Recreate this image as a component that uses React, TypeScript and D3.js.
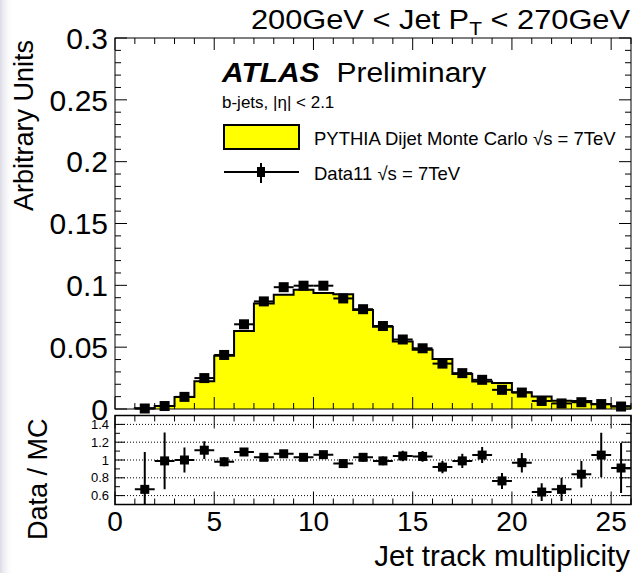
import React from "react";
import * as d3 from "d3";

// Track-multiplicity bins: each bin spans [lo, lo + 1)
const binLows = [1, 2, 3, 4, 5, 6, 7, 8, 9, 10, 11, 12, 13, 14, 15, 16, 17, 18, 19, 20, 21, 22, 23, 24, 25];

// PYTHIA dijet MC, normalised
const mcValues = [
  0.0006, 0.0024, 0.0098, 0.0225, 0.043, 0.063, 0.0853, 0.0924, 0.0964, 0.0937, 0.0927, 0.08, 0.0666,
  0.0546, 0.048, 0.0405, 0.0283, 0.0223, 0.021, 0.0136, 0.0101, 0.0066, 0.0065, 0.0038, 0.0022,
];

// Data11, normalised
const dataValues = [
  0.0004, 0.0024, 0.0098, 0.025, 0.0437, 0.0685, 0.087, 0.0985, 0.0997, 0.0997, 0.0894, 0.0807, 0.0671,
  0.0562, 0.0491, 0.0367, 0.029, 0.0236, 0.0155, 0.0133, 0.0065, 0.0045, 0.0055, 0.004, 0.002,
];
const dataErrors = [
  0.0004, 0.0006, 0.0012, 0.002, 0.0022, 0.0025, 0.0028, 0.003, 0.003, 0.003, 0.003, 0.0028, 0.0026,
  0.0024, 0.0022, 0.002, 0.0018, 0.0016, 0.0014, 0.0012, 0.001, 0.0008, 0.0008, 0.0007, 0.0006,
];

// Data / MC ratio and its uncertainty
const ratioValues = [
  0.67, 0.99, 1.0, 1.11, 0.98, 1.09, 1.03, 1.07, 1.03, 1.06, 0.96, 1.03, 0.99, 1.045, 1.04, 0.92, 0.99,
  1.055, 0.765, 0.97, 0.64, 0.67, 0.84, 1.055, 0.91,
];
const ratioErrors = [
  0.42, 0.32, 0.14, 0.1, 0.05, 0.04, 0.04, 0.04, 0.035, 0.035, 0.04, 0.05, 0.05, 0.06, 0.06, 0.07, 0.08,
  0.09, 0.09, 0.11, 0.1, 0.13, 0.15, 0.25, 0.28,
];

const mainYTicks = [0, 0.05, 0.1, 0.15, 0.2, 0.25, 0.3];
const mainYTickLabels = ["0", "0.05", "0.1", "0.15", "0.2", "0.25", "0.3"];
const ratioYTicks = [0.6, 0.8, 1.0, 1.2, 1.4];
const ratioYTickLabels = ["0.6", "0.8", "1", "1.2", "1.4"];
const xTicks = [0, 5, 10, 15, 20, 25];
const xTickLabels = ["0", "5", "10", "15", "20", "25"];

const W = 635;
const H = 573;
const LEFT = 115;
const RIGHT = 631;
const MAIN_TOP = 38;
const MAIN_BOTTOM = 409;
const RATIO_TOP = 415.5;
const RATIO_BOTTOM = 504.5;
const FONT = "'Liberation Sans', Arial, Helvetica, sans-serif";

export default function App() {
  const x = d3.scaleLinear().domain([0, 26]).range([LEFT, RIGHT]);
  const y = d3.scaleLinear().domain([0, 0.3]).range([MAIN_BOTTOM, MAIN_TOP]);
  const yr = d3.scaleLinear().domain([0.5, 1.5]).range([RATIO_BOTTOM, RATIO_TOP]);

  // stepped outline of the MC histogram
  const histPts: [number, number][] = [[binLows[0], 0]];
  binLows.forEach((lo, i) => {
    histPts.push([lo, mcValues[i]]);
    histPts.push([lo + 1, mcValues[i]]);
  });
  histPts.push([binLows[binLows.length - 1] + 1, 0]);
  const histLine = d3
    .line<[number, number]>()
    .x((d) => x(d[0]))
    .y((d) => y(d[1]));
  const histPath = histLine(histPts) ?? "";

  const xMinor = d3.range(0, 27, 1);
  const mainYMinor = d3.range(0, 0.3001, 0.01);
  const ratioYMinor = d3.range(0.5, 1.5001, 0.1);

  const tk = { stroke: "#000", strokeWidth: 1 };

  return (
    <svg
      width={W}
      height={H}
      viewBox={`0 0 ${W} ${H}`}
      style={{ position: "absolute", left: 0, top: 0, display: "block", background: "#fff" }}
      fontFamily={FONT}
    >
      <defs>
        <linearGradient id="edgeShade" x1="0" x2="1" y1="0" y2="0">
          <stop offset="0" stopColor="#d8d8e4" stopOpacity="0.9" />
          <stop offset="1" stopColor="#ffffff" stopOpacity="0" />
        </linearGradient>
        <clipPath id="mainClip">
          <rect x={LEFT} y={MAIN_TOP} width={RIGHT - LEFT} height={MAIN_BOTTOM - MAIN_TOP + 6} />
        </clipPath>
        <clipPath id="ratioClip">
          <rect x={LEFT} y={RATIO_TOP} width={RIGHT - LEFT} height={RATIO_BOTTOM - RATIO_TOP} />
        </clipPath>
      </defs>
      <rect x={0} y={0} width={W} height={H} fill="#fff" />
      <rect x={0} y={0} width={14} height={H} fill="url(#edgeShade)" />

      {/* title */}
      <g transform="translate(630, 28.5) scale(1.1, 1)">
        <text x={0} y={0} textAnchor="end" fontSize={28}>
          200GeV &lt; Jet P
          <tspan fontSize={19} dy={6}>T</tspan>
          <tspan dy={-6}> &lt; 270GeV</tspan>
        </text>
      </g>

      {/* ===== main panel ===== */}
      <g clipPath="url(#mainClip)">
        <path d={histPath} fill="#ffff00" stroke="#000" strokeWidth={2} />
      </g>

      {/* main y ticks */}
      {mainYMinor.map((v, i) => {
        const major = i % 5 === 0;
        const len = major ? 12 : 6;
        return (
          <g key={`my${i}`}>
            <line x1={LEFT} x2={LEFT + len} y1={y(v)} y2={y(v)} {...tk} />
            <line x1={RIGHT} x2={RIGHT - len} y1={y(v)} y2={y(v)} {...tk} />
          </g>
        );
      })}
      {/* main x ticks */}
      {xMinor.map((v) => {
        const len = v % 5 === 0 ? 12 : 6;
        return (
          <g key={`mx${v}`}>
            <line x1={x(v)} x2={x(v)} y1={MAIN_BOTTOM} y2={MAIN_BOTTOM - len} {...tk} />
            <line x1={x(v)} x2={x(v)} y1={MAIN_TOP} y2={MAIN_TOP + len} {...tk} />
          </g>
        );
      })}

      {/* data points */}
      {binLows.map((lo, i) => {
        const cx = x(lo + 0.5);
        const cy = y(dataValues[i]);
        return (
          <g key={`d${i}`}>
            <line x1={x(lo)} x2={x(lo + 1)} y1={cy} y2={cy} stroke="#000" strokeWidth={2} />
            <line
              x1={cx}
              x2={cx}
              y1={y(dataValues[i] + dataErrors[i])}
              y2={y(Math.max(0, dataValues[i] - dataErrors[i]))}
              stroke="#000"
              strokeWidth={2}
            />
            <rect x={cx - 5} y={cy - 5} width={10} height={10} fill="#000" />
          </g>
        );
      })}

      <rect
        x={LEFT}
        y={MAIN_TOP}
        width={RIGHT - LEFT}
        height={MAIN_BOTTOM - MAIN_TOP}
        fill="none"
        stroke="#000"
        strokeWidth={1}
      />

      {/* main y tick labels */}
      {mainYTicks.map((v, i) => (
        <text key={`myl${i}`} x={108} y={y(v)} dy="0.36em" textAnchor="end" fontSize={30}>
          {mainYTickLabels[i]}
        </text>
      ))}
      <text
        transform={`translate(33, ${MAIN_TOP + 2}) rotate(-90)`}
        textAnchor="end"
        fontSize={27}
      >
        Arbitrary Units
      </text>

      {/* labels and legend */}
      <g transform="translate(222, 81.5) scale(1.07, 1)">
        <text x={0} y={0} fontSize={28} fontWeight="bold" fontStyle="italic">
          ATLAS
        </text>
        <text x={107} y={0} fontSize={28}>
          Preliminary
        </text>
      </g>
      <text x={222} y={108} fontSize={17}>
        b-jets, |η| &lt; 2.1
      </text>
      <rect x={224} y={125} width={75} height={24} fill="#ffff00" stroke="#000" strokeWidth={2} />
      <text x={314} y={144.5} fontSize={18.5}>
        PYTHIA Dijet Monte Carlo √s = 7TeV
      </text>
      <line x1={224} x2={299} y1={172} y2={172} stroke="#000" strokeWidth={2} />
      <line x1={261} x2={261} y1={163} y2={183} stroke="#000" strokeWidth={2} />
      <rect x={257} y={167} width={8} height={10} fill="#000" />
      <text x={314} y={179.5} fontSize={18.5}>
        Data11 √s = 7TeV
      </text>

      {/* ===== ratio panel ===== */}
      {ratioYTicks.map((v, i) => (
        <line
          key={`g${i}`}
          x1={LEFT}
          x2={RIGHT}
          y1={yr(v)}
          y2={yr(v)}
          stroke="#000"
          strokeWidth={1}
          strokeDasharray="1,2"
        />
      ))}

      {ratioYMinor.map((v, i) => {
        const major = i % 2 === 1;
        const len = major ? 10 : 5;
        return (
          <g key={`ry${i}`}>
            <line x1={LEFT} x2={LEFT + len} y1={yr(v)} y2={yr(v)} {...tk} />
            <line x1={RIGHT} x2={RIGHT - len} y1={yr(v)} y2={yr(v)} {...tk} />
          </g>
        );
      })}
      {xMinor.map((v) => {
        const len = v % 5 === 0 ? 13 : 6;
        return (
          <g key={`rx${v}`}>
            <line x1={x(v)} x2={x(v)} y1={RATIO_BOTTOM} y2={RATIO_BOTTOM - len} {...tk} />
            <line x1={x(v)} x2={x(v)} y1={RATIO_TOP} y2={RATIO_TOP + len} {...tk} />
          </g>
        );
      })}

      <g clipPath="url(#ratioClip)">
        {binLows.map((lo, i) => {
          const cx = x(lo + 0.5);
          const cy = yr(ratioValues[i]);
          return (
            <g key={`r${i}`}>
              <line x1={x(lo)} x2={x(lo + 1)} y1={cy} y2={cy} stroke="#000" strokeWidth={2} />
              <line
                x1={cx}
                x2={cx}
                y1={yr(ratioValues[i] + ratioErrors[i])}
                y2={yr(ratioValues[i] - ratioErrors[i])}
                stroke="#000"
                strokeWidth={2}
              />
              <rect x={cx - 4.5} y={cy - 4.5} width={9} height={9} fill="#000" />
            </g>
          );
        })}
      </g>

      <rect
        x={LEFT}
        y={RATIO_TOP}
        width={RIGHT - LEFT}
        height={RATIO_BOTTOM - RATIO_TOP}
        fill="none"
        stroke="#000"
        strokeWidth={1.5}
      />

      {ratioYTicks.map((v, i) => (
        <text key={`ryl${i}`} x={109} y={yr(v)} dy="0.36em" textAnchor="end" fontSize={13}>
          {ratioYTickLabels[i]}
        </text>
      ))}
      {xTicks.map((v, i) => (
        <text key={`rxl${i}`} x={x(v)} y={531} textAnchor="middle" fontSize={28}>
          {xTickLabels[i]}
        </text>
      ))}
      <text
        transform={`translate(47, ${RATIO_TOP + 3}) rotate(-90)`}
        textAnchor="end"
        fontSize={27}
      >
        Data / MC
      </text>
      <text x={630} y={566} textAnchor="end" fontSize={29.5}>
        Jet track multiplicity
      </text>
    </svg>
  );
}
